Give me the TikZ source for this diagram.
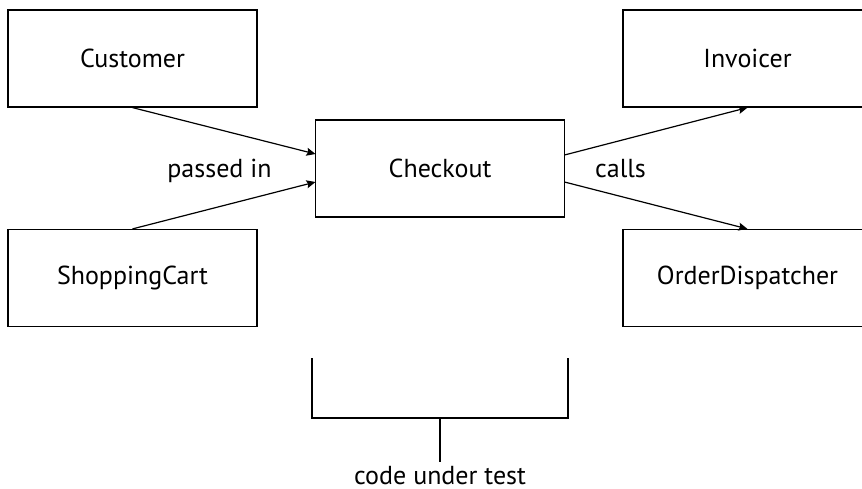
\documentclass[tikz,border=0pt]{standalone}
\usepackage{fontspec}
\setmainfont{PT Sans}
\usetikzlibrary{arrows.meta}
\begin{document}
\begin{tikzpicture}[x=1pt,y=-1pt,
  box/.style={draw,line width=1.2pt,minimum width=249pt,minimum height=97pt,inner sep=0pt,font=\fontsize{26}{30}\selectfont},
  lbl/.style={font=\fontsize{26}{30}\selectfont,inner sep=0pt,anchor=base},
  conn/.style={line width=1.2pt,-{Stealth[length=9pt,width=8pt,inset=1.5pt]}},
  line/.style={line width=1.2pt}]
\useasboundingbox (0,0) rectangle (862,488);
\begin{scope}
\clip (0,0) rectangle (862,488);
\node[box] (cust) at (132.5,58.5) {Customer};
\node[box] (cart) at (132.5,278) {ShoppingCart};
\node[box] (chk) at (440,168.5) {Checkout};
\node[box] (inv) at (747.5,58.5) {Invoicer};
\node[box] (disp) at (747.5,278) {OrderDispatcher};
\end{scope}
\coordinate (chkL1) at (315.5,154);
\coordinate (chkL2) at (315.5,182);
\coordinate (chkR1) at (564.5,155);
\coordinate (chkR2) at (564.5,182);
\draw[conn] (cust.south) -- (chkL1);
\draw[conn] (cart.north) -- (chkL2);
\draw[conn] (chkR1) -- (inv.south);
\draw[conn] (chkR2) -- (disp.north);
\node[lbl] (passed) at (219.5,177) {passed in};
\node[lbl] (calls) at (620.5,177) {calls};
\coordinate (bl) at (312,358);
\coordinate (br) at (568,358);
\coordinate (stemtop) at (440,418);
\coordinate (stembot) at (440,462);
\draw[line] (bl) -- (312,418) -- (568,418) -- (br);
\draw[line] (stemtop) -- (stembot);
\node[lbl,text depth=0pt] (cut) at (440,484) {code under test};
\end{tikzpicture}
\end{document}
